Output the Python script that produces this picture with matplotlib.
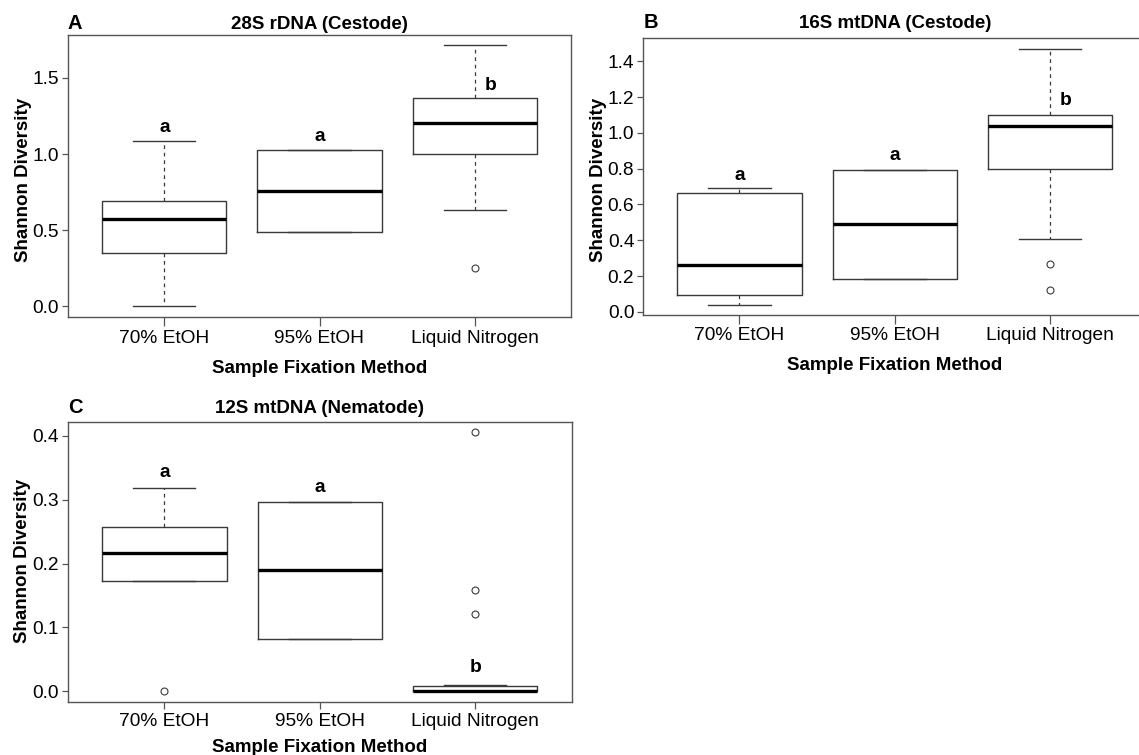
import numpy as np
import matplotlib
matplotlib.use("Agg")
import matplotlib.pyplot as plt

plt.rcParams['font.family'] = ['Liberation Sans', 'DejaVu Sans']

W, H = 1139, 755

methods = ["70% EtOH", "95% EtOH", "Liquid Nitrogen"]

# ---------- A: 28S rDNA (Cestode) ----------
a_q1 = [0.348, 0.49, 1.00]
a_med = [0.575, 0.76, 1.205]
a_q3 = [0.69, 1.027, 1.366]
a_lo = [0.0, 0.49, 0.63]
a_hi = [1.086, 1.027, 1.714]
a_out = [[], [], [0.249]]
a_letters = ["a", "a", "b"]
a_let_x = [1, 2, 3.1]
a_let_y = [1.145, 1.086, 1.423]
a_ticks = [0.0, 0.5, 1.0, 1.5]

# ---------- B: 16S mtDNA (Cestode) ----------
b_q1 = [0.093, 0.186, 0.797]
b_med = [0.261, 0.49, 1.037]
b_q3 = [0.664, 0.793, 1.102]
b_lo = [0.037, 0.186, 0.406]
b_hi = [0.692, 0.793, 1.471]
b_out = [[], [], [0.266, 0.121]]
b_letters = ["a", "a", "b"]
b_let_x = [1, 2, 3.1]
b_let_y = [0.739, 0.847, 1.154]
b_ticks = [0.0, 0.2, 0.4, 0.6, 0.8, 1.0, 1.2, 1.4]

# ---------- C: 12S mtDNA (Nematode) ----------
c_q1 = [0.172, 0.082, 0.0]
c_med = [0.2165, 0.19, 0.0]
c_q3 = [0.258, 0.2965, 0.0074]
c_lo = [0.172, 0.082, 0.0]
c_hi = [0.319, 0.2965, 0.0099]
c_out = [[0.0], [], [0.406, 0.159, 0.121]]
c_letters = ["a", "a", "b"]
c_let_x = [1, 2, 3]
c_let_y = [0.335, 0.3127, 0.0303]
c_ticks = [0.0, 0.1, 0.2, 0.3, 0.4]

EDGE = "#3a3a3a"
FS = 13.8


def px_axes(left, top, right, bottom):
    return fig.add_axes([left / W, 1 - bottom / H, (right - left) / W, (bottom - top) / H])


def draw_panel(ax, q1, med, q3, lo, hi, out, letters, let_x, let_y, ticks, fmt,
               xtick_len, xpad):
    stats = []
    for i in range(len(methods)):
        stats.append(dict(q1=q1[i], med=med[i], q3=q3[i], whislo=lo[i],
                          whishi=hi[i], fliers=out[i], label=methods[i]))
    ax.bxp(stats, positions=[1, 2, 3], widths=0.8, capwidths=0.4,
           boxprops=dict(color=EDGE, linewidth=1.0),
           medianprops=dict(color="black", linewidth=2.4, solid_capstyle="butt"),
           whiskerprops=dict(color=EDGE, linewidth=0.9, linestyle=(0, (3, 3))),
           capprops=dict(color=EDGE, linewidth=1.0),
           flierprops=dict(marker="o", markersize=5, markerfacecolor="none",
                           markeredgecolor=EDGE, markeredgewidth=0.8))
    allv = [v for v in lo + hi] + [v for o in out for v in o]
    lo_v, hi_v = min(allv), max(allv)
    d = (hi_v - lo_v) * 0.04
    ax.set_ylim(lo_v - d, hi_v + d)
    ax.set_xlim(0.38, 3.62)
    ax.set_yticks(ticks)
    ax.set_yticklabels([fmt.format(t) for t in ticks], fontsize=FS)
    ax.set_xticks([1, 2, 3])
    ax.set_xticklabels(methods, fontsize=FS)
    ax.tick_params(axis="y", length=4.5, width=0.9, color="#555555", pad=2)
    ax.tick_params(axis="x", length=xtick_len, width=0.9, color="#555555", pad=xpad)
    for s in ax.spines.values():
        s.set_color("#555555")
        s.set_linewidth(1.0)
    for x, y, t in zip(let_x, let_y, letters):
        ax.text(x, y, t, ha="center", va="baseline", fontsize=FS, fontweight="bold")


def ptext(x, y, s, **kw):
    fig.text(x / W, 1 - y / H, s, **kw)


fig = plt.figure(figsize=(W / 100, H / 100), dpi=100)

# panel A
axA = px_axes(68, 35, 571, 316.5)
draw_panel(axA, a_q1, a_med, a_q3, a_lo, a_hi, a_out, a_letters, a_let_x, a_let_y,
           a_ticks, "{:.1f}", 6.5, 3)
ptext(68, 29.3, "A", ha="left", va="baseline", fontsize=14.5, fontweight="bold")
ptext(319.5, 29.3, "28S rDNA (Cestode)", ha="center", va="baseline", fontsize=13.5, fontweight="bold")
ptext(319.5, 372.7, "Sample Fixation Method", ha="center", va="baseline", fontsize=13.5, fontweight="bold")
ptext(28.3, 180, "Shannon Diversity", ha="center", va="baseline", rotation=90,
      rotation_mode="anchor", fontsize=13.5, fontweight="bold")

# panel B
axB = px_axes(643.3, 38.3, 1146, 315.5)
draw_panel(axB, b_q1, b_med, b_q3, b_lo, b_hi, b_out, b_letters, b_let_x, b_let_y,
           b_ticks, "{:.1f}", 6.5, 2)
ptext(644, 28.3, "B", ha="left", va="baseline", fontsize=14.5, fontweight="bold")
ptext(894.7, 28.3, "16S mtDNA (Cestode)", ha="center", va="baseline", fontsize=13.5, fontweight="bold")
ptext(894.7, 370, "Sample Fixation Method", ha="center", va="baseline", fontsize=13.5, fontweight="bold")
ptext(603, 180, "Shannon Diversity", ha="center", va="baseline", rotation=90,
      rotation_mode="anchor", fontsize=13.5, fontweight="bold")

# panel C
axC = px_axes(68, 421.7, 571.7, 701.5)
draw_panel(axC, c_q1, c_med, c_q3, c_lo, c_hi, c_out, c_letters, c_let_x, c_let_y,
           c_ticks, "{:.1f}", 5, 3.5)
ptext(68, 413.3, "C", ha="left", va="baseline", fontsize=14.5, fontweight="bold")
ptext(319.8, 413.3, "12S mtDNA (Nematode)", ha="center", va="baseline", fontsize=13.5, fontweight="bold")
ptext(319.8, 751.7, "Sample Fixation Method", ha="center", va="baseline", fontsize=13.5, fontweight="bold")
ptext(27, 561, "Shannon Diversity", ha="center", va="baseline", rotation=90,
      rotation_mode="anchor", fontsize=13.5, fontweight="bold")

fig.savefig("out.png", dpi=100)
